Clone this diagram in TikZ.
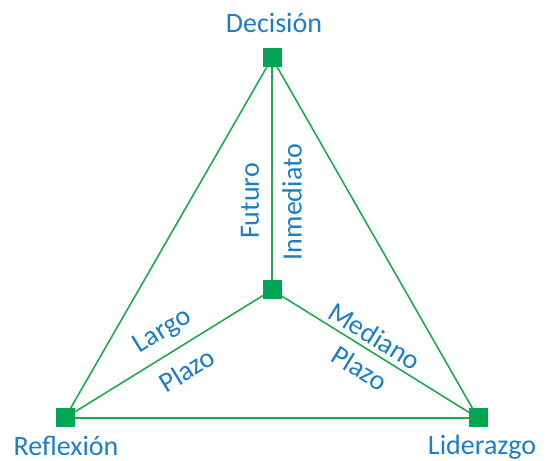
\documentclass[tikz,border=0pt]{standalone}
\usepackage{fontspec}
\setmainfont{Carlito}
\definecolor{sqgreen}{RGB}{0,166,81}
\definecolor{lngreen}{RGB}{30,170,80}
\definecolor{txtblue}{RGB}{28,125,200}
\tikzset{
  sq/.style={fill=sqgreen, draw=none, minimum size=19pt, inner sep=0pt},
  ln/.style={draw=lngreen, line width=1.6pt},
  lbl/.style={text=txtblue, font=\fontsize{28}{30}\selectfont, inner sep=0pt}
}
\begin{document}
\begin{tikzpicture}[x=1pt,y=1pt]
\useasboundingbox (0,0) rectangle (550,461);
\coordinate (T) at (272,403);
\coordinate (C) at (272,171);
\coordinate (BL) at (65,43);
\coordinate (BR) at (478,43);
\draw[ln] (T) -- (BL) -- (BR) -- cycle;
\draw[ln] (T) -- (C);
\draw[ln] (C) -- (BL);
\draw[ln] (C) -- (BR);
\node[sq] (t) at (T) {};
\node[sq] (c) at (C) {};
\node[sq] (bl) at (BL) {};
\node[sq] (br) at (BR) {};
\node[lbl, anchor=base] (dec) at (274,428) {Decisión};
\node[lbl, anchor=base] (ref) at (66,5) {Reflexión};
\node[lbl, anchor=base] (lid) at (482,6) {Liderazgo};
\node[lbl, rotate=90] (fut) at (250,260) {Futuro};
\node[lbl, rotate=90] (inm) at (292,259) {Inmediato};
\node[lbl, rotate=31.7] (lar) at (163,129) {Largo};
\node[lbl, rotate=31.7] (pl1) at (187,91) {Plazo};
\node[lbl, rotate=-31.8] (med) at (375,125) {Mediano};
\node[lbl, rotate=-31.8] (pl2) at (360,93) {Plazo};
\end{tikzpicture}
\end{document}
